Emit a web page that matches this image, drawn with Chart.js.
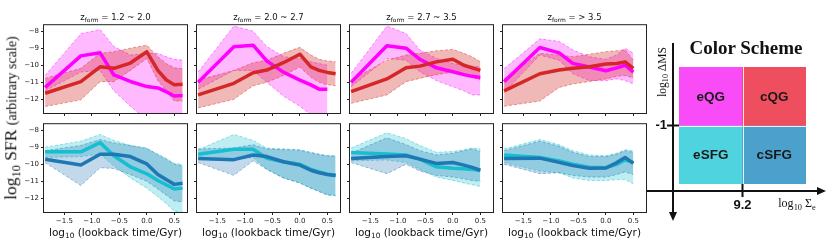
<!DOCTYPE html>
<html><head><meta charset="utf-8">
<script src="https://cdn.jsdelivr.net/npm/chart.js@4"></script>
<style>
body{margin:0;background:#fff;}
#wrap{position:relative;width:830px;height:249px;overflow:hidden;background:#fff;}
canvas{position:absolute;}
.t{position:absolute;white-space:nowrap;color:#111;line-height:1;}
.sub{font-size:0.7em;position:relative;top:0.3em;}
</style></head><body><div id="wrap"></div>
<script>
// ---------- data ----------
const lookback = [-1.85, -1.2, -0.85, -0.6, -0.3, 0.0, 0.2, 0.35, 0.5, 0.65];
const xTicks = [-1.5, -1, -0.5, 0, 0.5];
const yTicks = [-8, -9, -10, -11, -12];
const zformBins = ['1.2 ~ 2.0', '2.0 ~ 2.7', '2.7 ~ 3.5', '> 3.5'];

// extended quiescent (magenta)
const eQG_mid = [
  [-11.3, -9.45, -9.27, -10.57, -10.95, -11.25, -11.33, -11.55, -11.8, -11.78],
  [-11.0, -8.92, -8.82, -9.75, -10.4, -10.87, -11.15, -11.4, -11.41, null],
  [-11.0, -8.85, -9.0, -9.65, -10.15, -10.38, -10.55, -10.65, -10.72, null],
  [-10.96, -8.96, -9.27, -9.89, -10.1, -10.32, -10.15, -10.0, -10.4, null]];
const eQG_hi = [
  [-10.6, -8.15, -7.9, -8.9, -9.4, -9.3, -9.3, -9.5, -9.65, -9.7],
  [-10.4, -7.7, -8.0, -8.9, -9.5, -9.6, -9.8, -9.9, -10.0, null],
  [-10.48, -7.7, -8.14, -9.1, -9.6, -9.9, -10.0, -10.05, -10.1, null],
  [-10.2, -8.45, -8.6, -9.1, -9.5, -9.65, -9.4, -9.0, -9.3, null]];
const eQG_lo = [
  [-11.5, -10.4, -10.3, -11.5, -12.4, -13.2, -13.8, -14.0, -14.0, -14.0],
  [-11.4, -10.3, -10.3, -11.0, -11.8, -12.4, -12.9, -13.3, -13.5, null],
  [-11.26, -9.6, -9.7, -10.38, -10.9, -11.26, -11.5, -11.74, -11.74, null],
  [-11.6, -9.4, -9.7, -10.5, -10.9, -10.9, -10.8, -10.9, -11.1, null]];

// compact quiescent (red)
const cQG_mid = [
  [-11.64, -10.96, -10.09, -10.18, -9.87, -9.21, -10.3, -10.85, -11.15, -11.12],
  [-11.74, -11.06, -10.44, -10.28, -9.85, -9.35, -10.1, -10.3, -10.42, -10.5],
  [-11.55, -10.8, -10.15, -10.05, -9.8, -9.65, -10.0, -10.15, -10.3, null],
  [-11.5, -10.5, -10.28, -10.18, -10.09, -9.93, -9.9, -9.8, -10.18, null]];
const cQG_hi = [
  [-10.77, -10.18, -9.3, -9.2, -9.0, -8.82, -9.5, -9.9, -10.15, -10.2],
  [-10.87, -10.3, -9.85, -9.7, -9.3, -8.95, -9.4, -9.65, -9.75, -9.8],
  [-10.87, -9.7, -9.4, -9.3, -9.15, -9.07, -9.3, -9.5, -9.8, null],
  [-10.8, -9.3, -9.4, -9.5, -9.35, -9.2, -9.15, -9.1, -9.7, null]];
const cQG_lo = [
  [-12.42, -12.03, -10.96, -10.96, -10.3, -9.6, -10.9, -11.5, -12.1, -12.1],
  [-12.5, -12.0, -11.2, -11.0, -10.6, -10.1, -10.7, -11.0, -11.15, -11.2],
  [-12.23, -11.74, -10.96, -10.77, -10.55, -10.4, -10.5, -10.7, -10.87, null],
  [-12.4, -12.1, -11.3, -11.1, -10.95, -10.8, -10.65, -10.6, -10.75, null]];

// extended star-forming (cyan)
const eSFG_mid = [
  [-9.27, -9.27, -8.73, -9.5, -10.15, -10.56, -10.95, -11.2, -11.45, -11.4],
  [-9.41, -9.12, -9.12, -9.65, -9.85, -10.0, -10.3, -10.45, -10.58, -10.65],
  [-9.31, -9.4, -9.46, -9.7, -10.15, -10.24, -10.27, -10.3, -10.36, null],
  [-9.46, -9.6, -9.8, -10.0, -10.18, -10.2, -10.0, -9.75, -9.89, null]];
const eSFG_hi = [
  [-9.0, -8.65, -8.25, -8.6, -8.9, -9.1, -9.4, -9.65, -9.95, -10.0],
  [-9.15, -8.25, -8.6, -9.05, -9.15, -9.2, -9.35, -9.45, -9.5, -9.55],
  [-9.05, -8.15, -8.5, -8.9, -9.3, -9.25, -9.15, -9.05, -9.1, null],
  [-9.1, -8.55, -8.85, -9.2, -9.45, -9.5, -9.35, -9.15, -9.2, null]];
const eSFG_lo = [
  [-9.6, -9.55, -9.4, -10.1, -10.8, -11.4, -11.9, -12.3, -12.75, -12.8],
  [-9.7, -9.7, -9.6, -10.3, -10.8, -11.1, -11.4, -11.6, -11.8, -11.85],
  [-9.8, -9.75, -9.9, -10.3, -10.75, -10.95, -11.1, -11.2, -11.3, null],
  [-9.9, -10.4, -10.5, -10.8, -10.95, -10.95, -10.9, -10.9, -11.15, null]];

// compact star-forming (blue)
const cSFG_mid = [
  [-9.7, -10.04, -9.41, -9.41, -9.55, -9.98, -10.6, -10.9, -11.18, -11.12],
  [-9.66, -9.73, -9.46, -9.55, -9.85, -10.05, -10.35, -10.5, -10.6, -10.66],
  [-9.66, -9.55, -9.5, -9.7, -9.95, -9.9, -10.05, -10.18, -10.35, null],
  [-9.66, -9.64, -9.89, -10.08, -10.24, -10.22, -9.9, -9.6, -9.95, null]];
const cSFG_hi = [
  [-9.2, -8.9, -8.55, -8.75, -8.9, -9.05, -9.45, -9.7, -10.0, -10.1],
  [-9.1, -9.05, -8.85, -9.1, -9.1, -9.15, -9.3, -9.4, -9.5, -9.5],
  [-9.35, -8.45, -8.85, -9.2, -9.45, -9.35, -9.2, -9.1, -9.25, null],
  [-9.2, -8.65, -8.95, -9.3, -9.55, -9.55, -9.4, -9.2, -9.3, null]];
const cSFG_lo = [
  [-9.9, -11.25, -10.2, -10.25, -10.6, -11.0, -11.45, -11.8, -12.15, -12.2],
  [-9.9, -10.65, -9.8, -10.3, -10.8, -11.1, -11.4, -11.6, -11.8, -11.82],
  [-9.9, -10.55, -10.0, -10.4, -10.65, -10.75, -10.85, -10.95, -11.0, null],
  [-10.0, -10.55, -10.5, -10.65, -10.75, -10.75, -10.6, -10.45, -10.6, null]];

// colour scheme diagram
const schemeGroups = ['extended', 'compact'];
const schemeQG = [-1, 0];
const schemeSFG = [-2, -1];
const schemeNamesQG = ['eQG', 'cQG'];
const schemeNamesSFG = ['eSFG', 'cSFG'];
const schemeColorsQG = ['#f94cf7', '#ee4e5e'];
const schemeColorsSFG = ['#4fd3df', '#4ba0cc'];
const msThreshold = -1;
const sigmaThresholdLabel = '9.2';

// ---------- layout ----------
const colLeft = [44, 197, 350, 503], panelW = 143, panelH = 88, rowTop = [25, 124];
const X_MIN = -1.87, X_MAX = 0.73, Y_MIN = -12.8, Y_MAX = -7.65;
const COL = {eQG: '#ff00ff', cQG: '#d62728', eSFG: '#17becf', cSFG: '#1f77b4'};

const wrap = document.getElementById('wrap');
function rgba(hex, a) {
  const n = parseInt(hex.slice(1), 16);
  return `rgba(${(n >> 16) & 255},${(n >> 8) & 255},${n & 255},${a})`;
}
function pts(arr) { return lookback.map((x, i) => ({x: x, y: arr[i]})); }
function lineDs(arr, c) {
  return {data: pts(arr), borderColor: c, borderWidth: 3.5, pointRadius: 0, fill: false, tension: 0, borderJoinStyle: 'round'};
}
function bandDs(arr, c, fill, a) {
  return {data: pts(arr), borderColor: rgba(c, 0.45), borderWidth: 1, borderDash: [3, 2], pointRadius: 0,
          fill: fill, backgroundColor: rgba(c, a), tension: 0};
}
function addText(html, cx, cy, style, rot) {
  const d = document.createElement('div');
  d.className = 't';
  d.innerHTML = html;
  d.style.cssText += style;
  d.style.left = cx + 'px'; d.style.top = cy + 'px';
  d.style.transform = 'translate(-50%,-50%)' + (rot ? ' rotate(-90deg)' : '');
  wrap.appendChild(d);
}
const minus = s => s.replace('-', '\u2212');
const framePlugin = {
  id: 'frame',
  afterDraw(chart) {
    const {ctx, chartArea: a} = chart;
    ctx.save();
    ctx.strokeStyle = '#222'; ctx.lineWidth = 1;
    ctx.strokeRect(a.left - 0.5, a.top - 0.5, a.right - a.left + 1, a.bottom - a.top + 1);
    ctx.restore();
  }
};

function makePanel(row, col) {
  const cv = document.createElement('canvas');
  cv.width = panelW + 44 + 6; cv.height = panelH + 6 + 20;
  cv.style.left = (colLeft[col] - 44) + 'px';
  cv.style.top = (rowTop[row] - 6) + 'px';
  wrap.appendChild(cv);
  let ds;
  if (row === 0) {
    ds = [lineDs(cQG_mid[col], COL.cQG), lineDs(eQG_mid[col], COL.eQG),
          bandDs(cQG_hi[col], COL.cQG, '+1', 0.33), bandDs(cQG_lo[col], COL.cQG, false, 0),
          bandDs(eQG_hi[col], COL.eQG, '+1', 0.27), bandDs(eQG_lo[col], COL.eQG, false, 0)];
  } else {
    ds = [lineDs(cSFG_mid[col], COL.cSFG), lineDs(eSFG_mid[col], COL.eSFG),
          bandDs(cSFG_hi[col], COL.cSFG, '+1', 0.28), bandDs(cSFG_lo[col], COL.cSFG, false, 0),
          bandDs(eSFG_hi[col], COL.eSFG, '+1', 0.28), bandDs(eSFG_lo[col], COL.eSFG, false, 0)];
  }
  const tickFont = {family: 'DejaVu Sans', size: 7};
  new Chart(cv, {
    type: 'line',
    data: {datasets: ds},
    options: {
      responsive: false, animation: false, events: [],
      layout: {padding: {top: 6, right: 6, left: 0, bottom: 0}},
      plugins: {legend: {display: false}, tooltip: {enabled: false}},
      scales: {
        x: {type: 'linear', min: X_MIN, max: X_MAX,
            afterBuildTicks: s => { s.ticks = xTicks.map(v => ({value: v})); },
            afterFit: s => { s.height = 20; },
            ticks: {callback: v => row === 1 ? minus(v.toFixed(1)) : '', font: tickFont, color: '#222',
                    padding: 2, maxRotation: 0, autoSkip: false},
            grid: {drawOnChartArea: false, drawTicks: true, tickLength: 3, color: '#222'},
            border: {display: false}},
        y: {type: 'linear', min: Y_MIN, max: Y_MAX,
            afterBuildTicks: s => { s.ticks = yTicks.map(v => ({value: v})); },
            afterFit: s => { s.width = 44; },
            ticks: {callback: v => col === 0 ? minus(String(v)) : '', font: tickFont, color: '#222',
                    padding: 2, autoSkip: false},
            grid: {drawOnChartArea: false, drawTicks: true, tickLength: 3, color: '#222'},
            border: {display: false}}
      }
    },
    plugins: [framePlugin]
  });
}
for (let r = 0; r < 2; r++) for (let c = 0; c < 4; c++) makePanel(r, c);

// panel texts
for (let c = 0; c < 4; c++) {
  const cx = colLeft[c] + panelW / 2;
  addText('z<span class="sub">form</span> = ' + zformBins[c], cx, 17,
          'font-family:"DejaVu Sans";font-size:8.5px;');
  addText('log<span class="sub">10</span> (lookback time/Gyr)', cx, 232,
          'font-family:"DejaVu Sans";font-size:10.5px;');
}
addText('log<span class="sub">10</span> SFR <span style="font-size:14px">(arbitrary scale)</span>', 11, 118,
        'font-family:"Liberation Serif";font-size:17.5px;', true);

// ---------- colour scheme ----------
const cs = document.createElement('canvas');
cs.width = 190; cs.height = 249;
cs.style.left = '640px'; cs.style.top = '0px';
wrap.appendChild(cs);
const schemePlugin = {
  id: 'scheme',
  afterDatasetsDraw(chart) {
    const {ctx, chartArea: a, scales} = chart;
    const xs = scales.x, ys = scales.y;
    ctx.save();
    // white separators
    const midX = xs.getPixelForValue(0.5), midY = ys.getPixelForValue(msThreshold);
    ctx.strokeStyle = 'rgba(255,255,255,0.85)'; ctx.lineWidth = 1;
    ctx.beginPath();
    ctx.moveTo(Math.round(midX) + 0.5, a.top); ctx.lineTo(Math.round(midX) + 0.5, a.bottom);
    ctx.moveTo(a.left, Math.round(midY) + 0.5); ctx.lineTo(a.right, Math.round(midY) + 0.5);
    ctx.stroke();
    // cell labels
    ctx.fillStyle = '#1a1a1a';
    ctx.font = 'bold 13.5px "Liberation Sans"';
    ctx.textAlign = 'center'; ctx.textBaseline = 'middle';
    [schemeNamesQG, schemeNamesSFG].forEach((names, di) => {
      chart.getDatasetMeta(di).data.forEach((bar, i) => {
        const p = bar.getCenterPoint();
        ctx.fillText(names[i], p.x, p.y + 1);
      });
    });
    // axes with arrows
    const x0 = a.left - 6, y0 = a.bottom + 7;
    ctx.strokeStyle = '#111'; ctx.fillStyle = '#111'; ctx.lineWidth = 2;
    ctx.beginPath();
    ctx.moveTo(x0, a.top - 24); ctx.lineTo(x0, a.bottom + 30);
    ctx.moveTo(a.left - 32, y0); ctx.lineTo(a.right + 13, y0);
    ctx.stroke();
    ctx.beginPath();
    ctx.moveTo(x0, a.bottom + 37); ctx.lineTo(x0 - 4, a.bottom + 28); ctx.lineTo(x0 + 4, a.bottom + 28); ctx.closePath();
    ctx.fill();
    ctx.beginPath();
    ctx.moveTo(a.right + 20, y0); ctx.lineTo(a.right + 11, y0 - 4); ctx.lineTo(a.right + 11, y0 + 4); ctx.closePath();
    ctx.fill();
    // ticks
    ctx.beginPath();
    ctx.moveTo(x0 - 6, midY); ctx.lineTo(a.left, midY);
    ctx.moveTo(midX, a.bottom); ctx.lineTo(midX, y0 + 6);
    ctx.stroke();
    ctx.font = 'bold 13px "Liberation Sans"';
    ctx.textAlign = 'right'; ctx.textBaseline = 'middle';
    ctx.fillText(String(msThreshold), x0 - 6, midY);
    ctx.textAlign = 'center'; ctx.textBaseline = 'top';
    ctx.fillText(sigmaThresholdLabel, midX, y0 + 8);
    ctx.restore();
  }
};
new Chart(cs, {
  type: 'bar',
  data: {
    labels: schemeGroups,
    datasets: [
      {data: schemeGroups.map(() => schemeQG), backgroundColor: schemeColorsQG, grouped: false,
       barPercentage: 1, categoryPercentage: 1, borderWidth: 0},
      {data: schemeGroups.map(() => schemeSFG), backgroundColor: schemeColorsSFG, grouped: false,
       barPercentage: 1, categoryPercentage: 1, borderWidth: 0}
    ]
  },
  options: {
    responsive: false, animation: false, events: [],
    layout: {padding: {left: 39, right: 24, top: 67, bottom: 65}},
    plugins: {legend: {display: false}, tooltip: {enabled: false}},
    scales: {x: {display: false}, y: {display: false, min: -2, max: 0}}
  },
  plugins: [schemePlugin]
});
addText('Color Scheme', 746, 47, 'font-family:"Liberation Serif";font-weight:bold;font-size:19px;');
addText('log<span class="sub">10</span> \u0394MS', 663, 72, 'font-family:"Liberation Serif";font-size:11.5px;', true);
addText('log<span class="sub">10</span> \u03a3<span class="sub">e</span>', 797, 203, 'font-family:"Liberation Serif";font-size:12px;');
</script></body></html>
